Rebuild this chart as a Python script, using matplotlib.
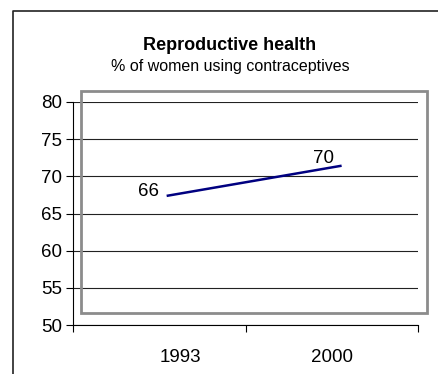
import matplotlib.pyplot as plt
from matplotlib.patches import Rectangle
from matplotlib.lines import Line2D

plt.rcParams['font.family'] = ['Liberation Sans', 'DejaVu Sans']

years = ["1993", "2000"]
values = [67.4, 71.4]
labels = ["66", "70"]

W, H = 438, 374
fig = plt.figure(figsize=(W / 100, H / 100), dpi=100)

# axes placement in pixels
ax = fig.add_axes([73 / W, (H - 325) / H, (418 - 73) / W, (325 - 102) / H])

x = [0.05, 1.05]
ax.plot(x, values, color="#000080", lw=1.8, zorder=3)
ax.text(x[0] - 0.05, values[0] + 0.5, labels[0], ha="right", va="center", fontsize=13.5)
ax.text(x[1] - 0.1, values[1] + 1.0, labels[1], ha="center", va="center", fontsize=13.5)

ax.set_xlim(-0.5, 1.5)
ax.set_ylim(50, 80)
ax.set_yticks(range(50, 81, 5))
ax.set_xticks([-0.5, 0.5, 1.5], minor=False)
ax.set_xticklabels([])
ax.set_xticks([0.12, 1.0], minor=True)
ax.set_xticklabels(years, minor=True)
ax.tick_params(axis="x", which="minor", length=0, pad=17, labelsize=13.5)
ax.tick_params(axis="x", which="major", length=5, direction="out", width=0.8)
ax.tick_params(axis="y", length=5, direction="out", width=0.8, labelsize=13.5, pad=3)
ax.grid(axis="y", color="#222222", lw=0.8)
for s in ["top", "right"]:
    ax.spines[s].set_visible(False)
ax.spines["left"].set_linewidth(0.8)
ax.spines["bottom"].set_linewidth(0.8)
ax.set_axisbelow(True)

# grey plot-area frame
fig.patches.append(Rectangle((81 / W, (H - 313) / H), (427 - 81) / W, (313 - 91) / H,
                             transform=fig.transFigure, fill=False,
                             edgecolor="#8c8c8c", lw=2))

# outer chart frame
fig.lines.append(Line2D([13 / W, 13 / W, 1], [0, (H - 11) / H, (H - 11) / H],
                        transform=fig.transFigure, color="#222222", lw=1.2))

fig.text(230 / W, (H - 46) / H, "Reproductive health", ha="center", va="center",
         fontsize=13, fontweight="bold")
fig.text(230 / W, (H - 67) / H, "% of women using contraceptives", ha="center",
         va="center", fontsize=11.5)

fig.savefig("out.png", dpi=100)
